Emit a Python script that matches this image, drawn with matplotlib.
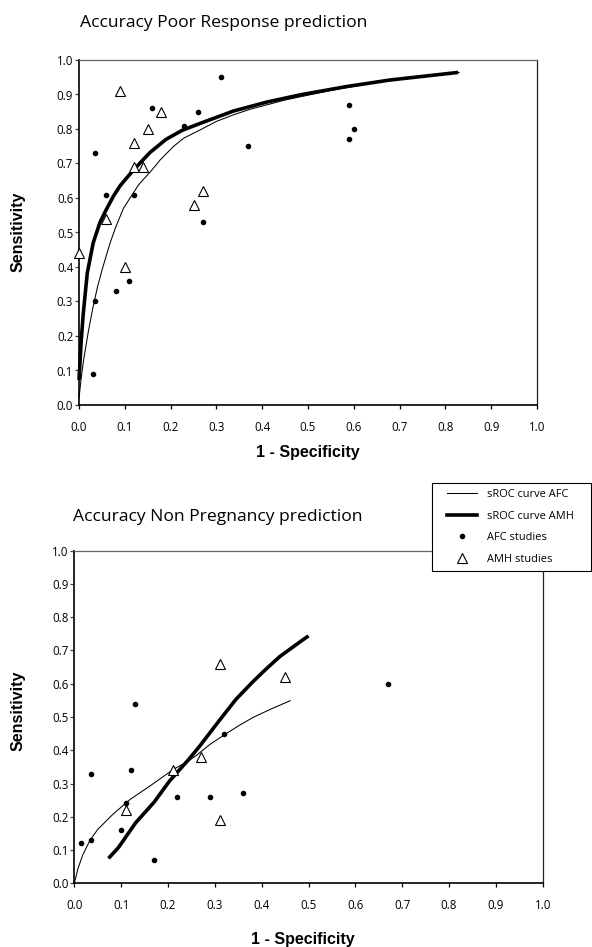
import matplotlib
matplotlib.use("Agg")
import matplotlib.pyplot as plt
from matplotlib.lines import Line2D
from matplotlib.patches import Rectangle

# ---------------- data: Poor Response prediction ----------------
pr_afc_x = [0.035, 0.06, 0.16, 0.12, 0.23, 0.26, 0.31, 0.27, 0.37, 0.59, 0.60, 0.59,
            0.035, 0.03, 0.08, 0.11]
pr_afc_y = [0.73, 0.61, 0.86, 0.61, 0.81, 0.85, 0.95, 0.53, 0.75, 0.87, 0.80, 0.77,
            0.30, 0.09, 0.33, 0.36]
pr_amh_x = [0.09, 0.18, 0.15, 0.12, 0.12, 0.14, 0.06, 0.25, 0.27, 0.0, 0.10]
pr_amh_y = [0.91, 0.85, 0.80, 0.76, 0.69, 0.69, 0.54, 0.58, 0.62, 0.44, 0.40]
pr_sroc_afc_x = [0.0, 0.005, 0.01, 0.02, 0.03, 0.04, 0.05, 0.06, 0.068, 0.08, 0.097, 0.13,
                 0.159, 0.177, 0.206, 0.228, 0.264, 0.30, 0.337, 0.373, 0.45, 0.55, 0.65,
                 0.75, 0.83]
pr_sroc_afc_y = [0.02, 0.08, 0.13, 0.21, 0.28, 0.34, 0.39, 0.435, 0.47, 0.515, 0.57, 0.638,
                 0.681, 0.71, 0.749, 0.773, 0.797, 0.822, 0.841, 0.857, 0.884, 0.912, 0.935,
                 0.952, 0.964]
pr_sroc_amh_x = [0.0, 0.005, 0.0094, 0.018, 0.031, 0.046, 0.059, 0.075, 0.0895, 0.104,
                 0.119, 0.155, 0.19, 0.225, 0.264, 0.337, 0.41, 0.483, 0.584, 0.679, 0.828]
pr_sroc_amh_y = [0.072, 0.19, 0.266, 0.382, 0.47, 0.53, 0.565, 0.605, 0.635, 0.658,
                 0.681, 0.732, 0.77, 0.796, 0.816, 0.852, 0.878, 0.899, 0.923, 0.942, 0.964]

# ---------------- data: Non Pregnancy prediction ----------------
np_afc_x = [0.13, 0.32, 0.67, 0.035, 0.12, 0.015, 0.035, 0.11, 0.10, 0.17, 0.22, 0.29, 0.36]
np_afc_y = [0.54, 0.45, 0.60, 0.33, 0.34, 0.12, 0.13, 0.24, 0.16, 0.07, 0.26, 0.26, 0.27]
np_amh_x = [0.31, 0.45, 0.27, 0.11, 0.21, 0.31]
np_amh_y = [0.66, 0.62, 0.38, 0.22, 0.34, 0.19]
np_sroc_afc_x = [0.0, 0.008, 0.018, 0.033, 0.05, 0.082, 0.119, 0.163, 0.211, 0.244, 0.261,
                 0.29, 0.32, 0.35, 0.382, 0.42, 0.461]
np_sroc_afc_y = [0.0, 0.045, 0.085, 0.128, 0.162, 0.207, 0.252, 0.294, 0.342, 0.368, 0.385,
                 0.418, 0.446, 0.473, 0.499, 0.524, 0.549]
np_sroc_amh_x = [0.073, 0.094, 0.131, 0.171, 0.203, 0.244, 0.268, 0.311, 0.345, 0.382,
                 0.41, 0.439, 0.482, 0.50]
np_sroc_amh_y = [0.075, 0.107, 0.182, 0.245, 0.307, 0.372, 0.413, 0.492, 0.553, 0.607,
                 0.645, 0.682, 0.726, 0.744]

tick_values = [0.0, 0.1, 0.2, 0.3, 0.4, 0.5, 0.6, 0.7, 0.8, 0.9, 1.0]
tick_labels = ["0.0", "0.1", "0.2", "0.3", "0.4", "0.5", "0.6", "0.7", "0.8", "0.9", "1.0"]

titles = ["Accuracy Poor Response prediction", "Accuracy Non Pregnancy prediction"]
legend_labels = ["sROC curve AFC", "sROC curve AMH", "AFC studies", "AMH studies"]

W, H = 592, 947
fig = plt.figure(figsize=(W / 100, H / 100), dpi=100)
fig.patch.set_facecolor("white")

SANS = ["Open Sans", "DejaVu Sans"]
BOLD = ["Liberation Sans", "DejaVu Sans"]


def px_axes(l, t, r, b):
    return [l / W, (H - b) / H, (r - l) / W, (b - t) / H]


def style(ax):
    ax.set_xlim(0, 1)
    ax.set_ylim(0, 1)
    ax.set_xticks(tick_values)
    ax.set_yticks(tick_values)
    ax.set_xticklabels(tick_labels, fontfamily=SANS, fontsize=8.3)
    ax.set_yticklabels(tick_labels, fontfamily=SANS, fontsize=8.3)
    ax.tick_params(axis="x", direction="out", length=3.2, width=0.9, pad=8.0, color="black")
    ax.tick_params(axis="y", direction="out", length=3.2, width=0.9, pad=1.0, color="#444444")
    ax.spines["left"].set_linewidth(1.2)
    ax.spines["bottom"].set_linewidth(1.2)
    ax.spines["top"].set_linewidth(0.9)
    ax.spines["top"].set_color("#666666")
    ax.spines["right"].set_linewidth(0.9)
    ax.spines["right"].set_color("#222222")


def draw(ax, afc_x, afc_y, amh_x, amh_y, cafc_x, cafc_y, camh_x, camh_y):
    ax.plot(cafc_x, cafc_y, color="black", lw=0.75, zorder=2, clip_on=False,
            solid_joinstyle="round")
    ax.plot(camh_x, camh_y, color="black", lw=2.6, zorder=3, clip_on=False,
            solid_capstyle="butt", solid_joinstyle="round")
    ax.plot(afc_x, afc_y, linestyle="none", marker="o", ms=3.0, color="black",
            zorder=4, clip_on=False)
    ax.plot(amh_x, amh_y, linestyle="none", marker="^", ms=7.5, mfc="white",
            mec="black", mew=0.8, zorder=5, clip_on=False)


ax1 = fig.add_axes(px_axes(79, 60, 537, 405))
style(ax1)
draw(ax1, pr_afc_x, pr_afc_y, pr_amh_x, pr_amh_y,
     pr_sroc_afc_x, pr_sroc_afc_y, pr_sroc_amh_x, pr_sroc_amh_y)

ax2 = fig.add_axes(px_axes(74.3, 550.7, 542.7, 883.3))
style(ax2)
draw(ax2, np_afc_x, np_afc_y, np_amh_x, np_amh_y,
     np_sroc_afc_x, np_sroc_afc_y, np_sroc_amh_x, np_sroc_amh_y)

# titles
fig.text(80 / W, 1 - 23 / H, titles[0], fontfamily=SANS, fontsize=12.6,
         ha="left", va="center")
fig.text(73 / W, 1 - 517 / H, titles[1], fontfamily=SANS, fontsize=12.6,
         ha="left", va="center")

# axis labels
for (yc, xc_lab, ylab_c) in [(452, 308, 232), (939, 303, 711)]:
    fig.text(xc_lab / W, 1 - yc / H, "1 - Specificity", fontfamily=BOLD,
             fontweight="bold", fontsize=11.5, ha="center", va="center")
    fig.text(18.5 / W, 1 - ylab_c / H, "Sensitivity", fontfamily=BOLD,
             fontweight="bold", fontsize=11.5, ha="center", va="center",
             rotation=90)

# legend box (white, covering plot corner)
box = Rectangle((432 / W, 1 - 571 / H), (591 - 432) / W, (571 - 483) / H,
                transform=fig.transFigure, facecolor="white", edgecolor="black",
                linewidth=0.8, zorder=10)
fig.add_artist(box)

handles = [
    Line2D([], [], color="black", lw=0.75),
    Line2D([], [], color="black", lw=2.6),
    Line2D([], [], linestyle="none", marker="o", ms=3.0, color="black"),
    Line2D([], [], linestyle="none", marker="^", ms=6.5, mfc="white", mec="black", mew=0.8),
]
leg = fig.legend(handles, legend_labels, loc="upper left",
                 bbox_to_anchor=(444 / W, 1 - 486 / H), frameon=False,
                 prop={"family": SANS, "size": 7.9}, handlelength=2.7,
                 handletextpad=0.9, labelspacing=0.95, borderpad=0.3,
                 borderaxespad=0)
leg.set_zorder(11)

fig.savefig("out.png", dpi=100)
